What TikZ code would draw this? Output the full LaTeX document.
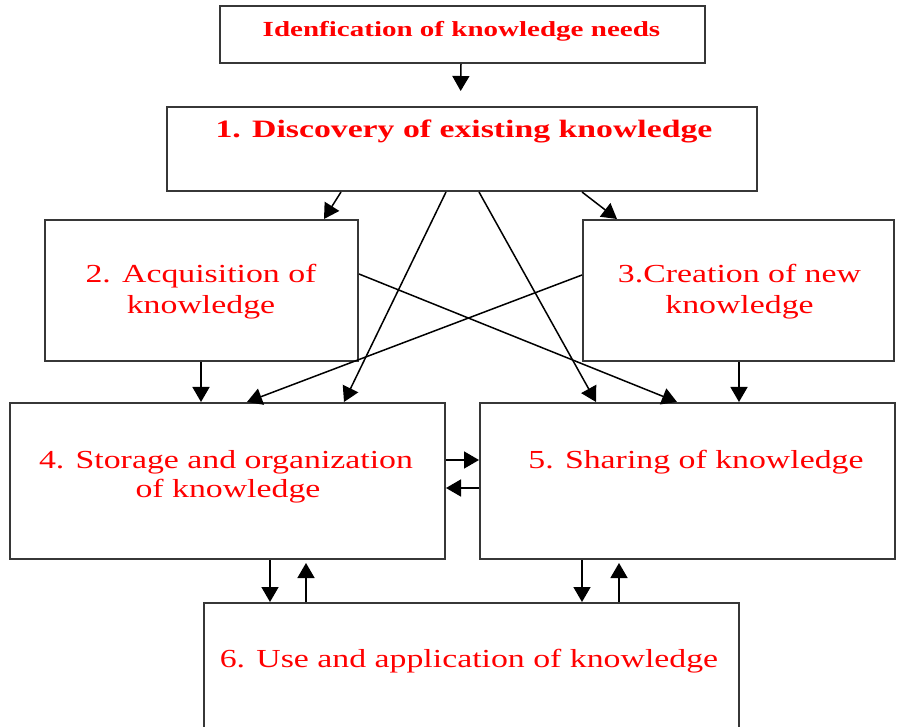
\documentclass[tikz,border=0pt]{standalone}
\usepackage{fontspec}
\usetikzlibrary{arrows.meta}
\newfontfamily\regfont[FakeStretch=1.3]{Liberation Serif}
\newfontfamily\boldfont[FakeStretch=1.35]{Liberation Serif Bold}
\definecolor{txtred}{RGB}{255,0,0}
\definecolor{boxgray}{RGB}{55,55,55}
\tikzset{
  box/.style={draw=boxgray, line width=2pt, fill=none, inner sep=0pt, rectangle},
  lbl/.style={anchor=base, inner sep=0pt, text=txtred, font=\regfont\fontsize{26pt}{31pt}\selectfont},
  conn/.style={draw=black, line width=1.5pt, -{Triangle[length=15pt,width=17pt]}},
}
\begin{document}
\begin{tikzpicture}[x=1pt,y=-1pt]
\clip (0,0) rectangle (900,727);
\fill[white] (0,0) rectangle (900,727);
% boxes
\node[box, minimum width=485pt, minimum height=57pt] (top) at (462.5,34.5) {};
\node[box, minimum width=590pt, minimum height=84pt] (b1) at (462,149) {};
\node[box, minimum width=313pt, minimum height=141pt] (b2) at (201.5,290.5) {};
\node[box, minimum width=311pt, minimum height=141pt] (b3) at (738.5,290.5) {};
\node[box, minimum width=435pt, minimum height=156pt] (b4) at (227.5,481) {};
\node[box, minimum width=415pt, minimum height=156pt] (b5) at (687.5,481) {};
\node[box, minimum width=535pt, minimum height=157pt] (b6) at (471.5,681.5) {};
% texts
\node[lbl, font=\boldfont\fontsize{21.5pt}{26pt}\selectfont] (ttop) at (461.5,37) {Idenfication of knowledge needs};
\node[lbl, font=\boldfont\fontsize{25pt}{30pt}\selectfont] (t1) at (464,138) {1. Discovery of existing knowledge};
\node[lbl] (t2a) at (201,283) {2. Acquisition of};
\node[lbl] (t2b) at (201,314) {knowledge};
\node[lbl] (t3a) at (739.5,283) {3.Creation of new};
\node[lbl] (t3b) at (739.5,314) {knowledge};
\node[lbl] (t4a) at (226,468) {4. Storage and organization};
\node[lbl] (t4b) at (228,497) {of knowledge};
\node[lbl] (t5) at (696,468) {5. Sharing of knowledge};
\node[lbl] (t6) at (469,667) {6. Use and application of knowledge};
% connectors
\draw[conn, shorten >=15pt] ([xshift=-1.5pt]top.south) -- ([xshift=-1.5pt]b1.north);
\draw[conn] ([xshift=175pt]b1.south west) -- ([xshift=280pt]b2.north west);
\draw[conn] ([xshift=416pt]b1.south west) -- ([xshift=35pt]b3.north west);
\draw[conn] ([xshift=280pt]b1.south west) -- ([xshift=335pt]b4.north west);
\draw[conn] ([xshift=313pt]b1.south west) -- ([xshift=117pt]b5.north west);
\draw[conn] ([xshift=157pt]b2.south west) -- ([xshift=192pt]b4.north west);
\draw[conn] ([xshift=157pt]b3.south west) -- ([xshift=260pt]b5.north west);
\draw[conn] ([yshift=-55pt]b2.north east) -- ([xshift=198pt]b5.north west);
\draw[conn] ([yshift=-56pt]b3.north west) -- ([xshift=238pt]b4.north west);
\draw[conn] ([yshift=-58pt]b4.north east) -- ([yshift=-58pt]b5.north west);
\draw[conn] ([yshift=-86pt]b5.north west) -- ([yshift=-86pt]b4.north east);
\draw[conn] ([xshift=261pt]b4.south west) -- ([xshift=67pt]b6.north west);
\draw[conn, shorten >=3pt] ([xshift=103pt]b6.north west) -- ([xshift=297pt]b4.south west);
\draw[conn] ([xshift=103pt]b5.south west) -- ([xshift=379pt]b6.north west);
\draw[conn, shorten >=3pt] ([xshift=416pt]b6.north west) -- ([xshift=140pt]b5.south west);
\end{tikzpicture}
\end{document}
